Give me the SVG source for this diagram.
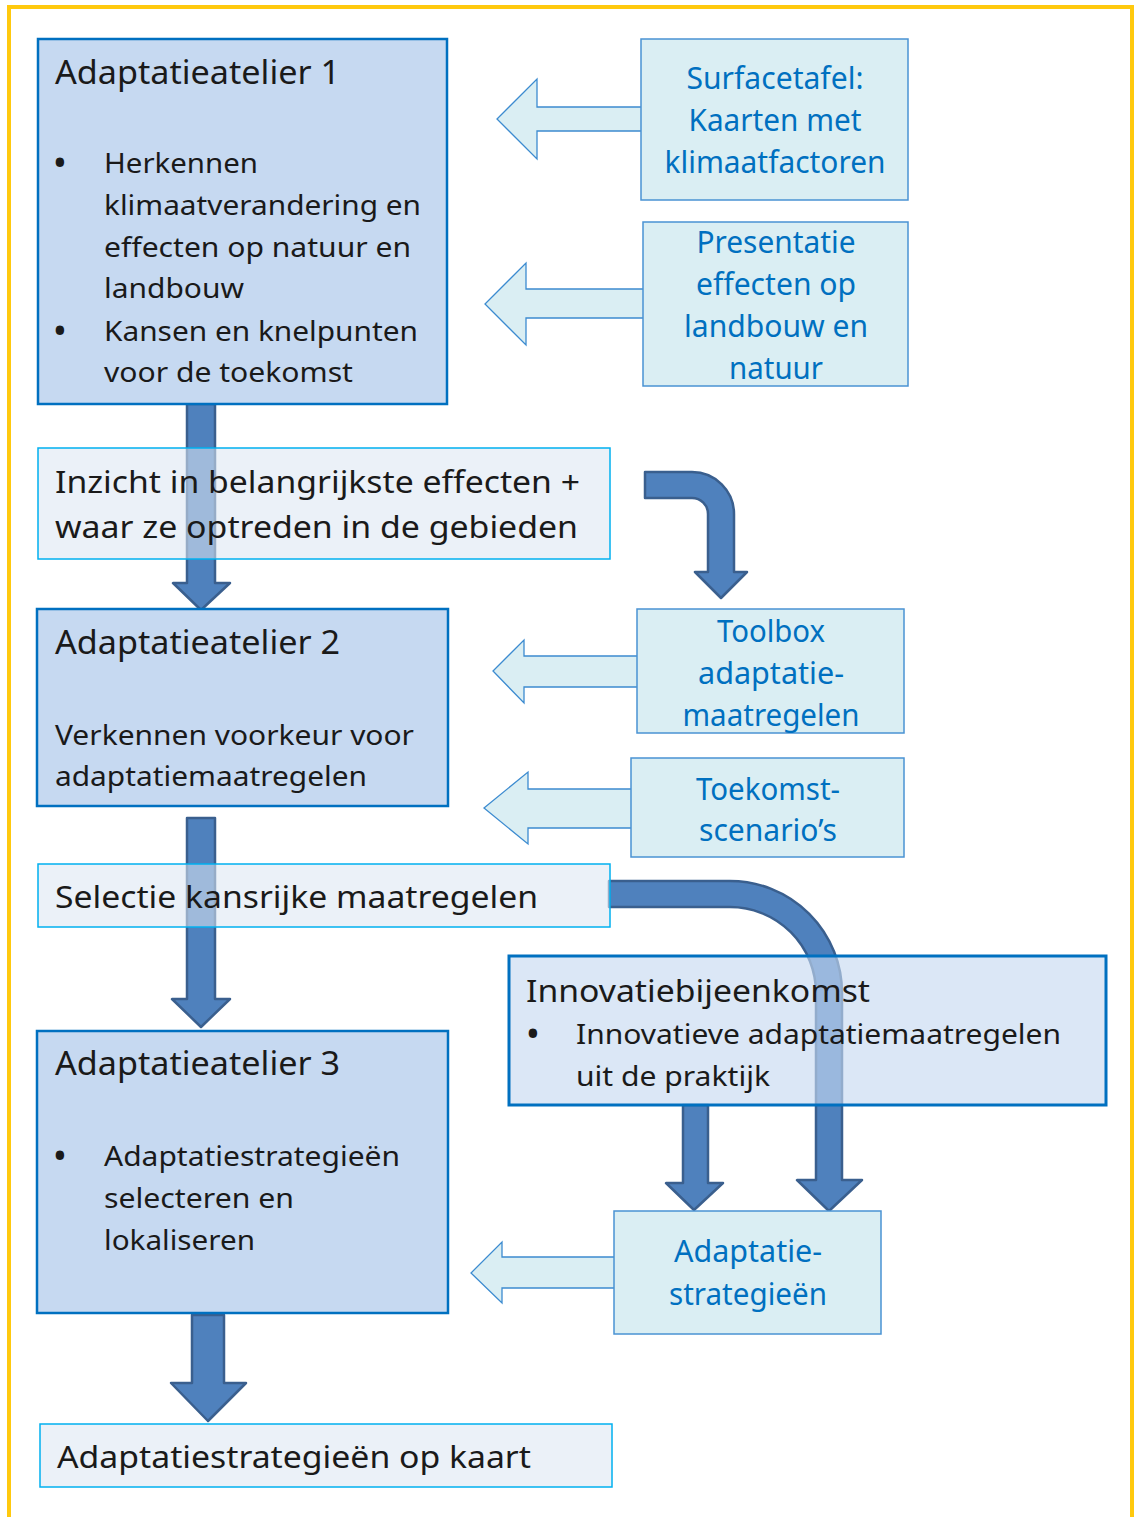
<svg xmlns="http://www.w3.org/2000/svg" width="1136" height="1517" viewBox="0 0 1136 1517">
<style>
text{font-family:"Noto Sans","Open Sans","DejaVu Sans",sans-serif;}
.main{fill:#C6D9F1;stroke:#0070C0;stroke-width:2.5;}
.trans{fill:#DCE6F2;fill-opacity:0.57;stroke:#00B0F0;stroke-width:1.5;}
.innov{fill:#C6D9F1;fill-opacity:0.63;stroke:#0070C0;stroke-width:3;}
.info{fill:#DAEEF3;stroke:#4A93D3;stroke-width:1.5;}
.hollow{fill:#DAEEF3;stroke:#3C8BD0;stroke-width:1.3;stroke-linejoin:miter;}
.block{fill:#4F81BD;stroke:#3A5F8E;stroke-width:2.5;stroke-linejoin:round;}
.t{fill:#1a1a1a;}
.ti{fill:#0070C0;text-anchor:middle;font-size:30px;}
.h{font-size:32px;}
.b{font-size:28px;}
.m{font-size:30px;}
.bul{font-size:30px;font-weight:bold;fill:#1a1a1a;text-anchor:middle;}
</style>
<rect x="9" y="7" width="1123" height="1540" fill="#FFFFFF" stroke="#FFC90E" stroke-width="4"/>

<g id="connectors">
  <path class="hollow" d="M641,107 H537 V79 L497,119 L537,159 V131 H641"/>
  <path class="hollow" d="M643,289 H526 V263 L485,304 L526,345 V318 H643"/>
  <path class="hollow" d="M637,656 H524 V640 L493,671 L524,703 V687 H637"/>
  <path class="hollow" d="M631,789 H528 V772 L484,808 L528,844 V828 H631"/>
  <path class="hollow" d="M614,1257 H502 V1242 L471,1273 L502,1303 V1288 H614"/>
  <path class="block" d="M187,404 H215 V583 H230 L201,610 L173,583 H187 Z"/>
  <path class="block" d="M187,818 H215 V999 H230 L201,1027 L172,999 H187 Z"/>
  <path class="block" d="M192,1315 H224 V1383 H246 L208,1421 L171,1383 H192 Z"/>
  <path class="block" d="M683,1105 H708 V1183 H723 L694,1210 L666,1183 H683 Z"/>
  <path class="block" d="M645,472 H692 A42,42 0 0 1 734,514 V572 H747 L721,598 L695,572 H708 V514 A16,16 0 0 0 692,498 H645 Z"/>
  <path class="block" d="M609,881 H730 A112,112 0 0 1 842,993 V1180 H862 L829,1211 L797,1180 H816 V993 A86,86 0 0 0 730,907 H609 Z"/>
</g>

<g id="atelier1">
  <rect class="main" x="38" y="39" width="409" height="365"/>
  <text class="t h" x="55" y="84" textLength="285" lengthAdjust="spacingAndGlyphs">Adaptatieatelier 1</text>
  <text class="bul" x="60" y="173">•</text>
  <text class="t b" x="104" y="173" textLength="154" lengthAdjust="spacingAndGlyphs">Herkennen</text>
  <text class="t b" x="104" y="215" textLength="317" lengthAdjust="spacingAndGlyphs">klimaatverandering en</text>
  <text class="t b" x="104" y="257" textLength="307" lengthAdjust="spacingAndGlyphs">effecten op natuur en</text>
  <text class="t b" x="104" y="298" textLength="140" lengthAdjust="spacingAndGlyphs">landbouw</text>
  <text class="bul" x="60" y="341">•</text>
  <text class="t b" x="104" y="341" textLength="314" lengthAdjust="spacingAndGlyphs">Kansen en knelpunten</text>
  <text class="t b" x="104" y="382" textLength="249" lengthAdjust="spacingAndGlyphs">voor de toekomst</text>
</g>

<g id="surfacetafel">
  <rect class="info" x="641" y="39" width="267" height="161"/>
  <text class="ti" x="775" y="89" textLength="177" lengthAdjust="spacingAndGlyphs">Surfacetafel:</text>
  <text class="ti" x="775" y="131" textLength="173" lengthAdjust="spacingAndGlyphs">Kaarten met</text>
  <text class="ti" x="775" y="173" textLength="221" lengthAdjust="spacingAndGlyphs">klimaatfactoren</text>
</g>

<g id="presentatie">
  <rect class="info" x="643" y="222" width="265" height="164"/>
  <text class="ti" x="776" y="253" textLength="159" lengthAdjust="spacingAndGlyphs">Presentatie</text>
  <text class="ti" x="776" y="295" textLength="160" lengthAdjust="spacingAndGlyphs">effecten op</text>
  <text class="ti" x="776" y="337" textLength="184" lengthAdjust="spacingAndGlyphs">landbouw en</text>
  <text class="ti" x="776" y="379" textLength="94" lengthAdjust="spacingAndGlyphs">natuur</text>
</g>

<g id="inzicht">
  <rect class="trans" x="38" y="448" width="572" height="111"/>
  <text class="t m" x="55" y="493" textLength="525" lengthAdjust="spacingAndGlyphs">Inzicht in belangrijkste effecten +</text>
  <text class="t m" x="55" y="538" textLength="523" lengthAdjust="spacingAndGlyphs">waar ze optreden in de gebieden</text>
</g>

<g id="atelier2">
  <rect class="main" x="37" y="609" width="411" height="197"/>
  <text class="t h" x="55" y="654" textLength="285" lengthAdjust="spacingAndGlyphs">Adaptatieatelier 2</text>
  <text class="t b" x="55" y="745" textLength="359" lengthAdjust="spacingAndGlyphs">Verkennen voorkeur voor</text>
  <text class="t b" x="55" y="786" textLength="312" lengthAdjust="spacingAndGlyphs">adaptatiemaatregelen</text>
</g>

<g id="toolbox">
  <rect class="info" x="637" y="609" width="267" height="124"/>
  <text class="ti" x="771" y="642" textLength="108" lengthAdjust="spacingAndGlyphs">Toolbox</text>
  <text class="ti" x="771" y="684" textLength="146" lengthAdjust="spacingAndGlyphs">adaptatie-</text>
  <text class="ti" x="771" y="726" textLength="177" lengthAdjust="spacingAndGlyphs">maatregelen</text>
</g>

<g id="toekomst">
  <rect class="info" x="631" y="758" width="273" height="99"/>
  <text class="ti" x="768" y="800" textLength="144" lengthAdjust="spacingAndGlyphs">Toekomst-</text>
  <text class="ti" x="768" y="841" textLength="138" lengthAdjust="spacingAndGlyphs">scenario’s</text>
</g>

<g id="selectie">
  <rect class="trans" x="38" y="864" width="572" height="63"/>
  <text class="t m" x="55" y="908" textLength="483" lengthAdjust="spacingAndGlyphs">Selectie kansrijke maatregelen</text>
</g>

<g id="innovatie">
  <rect class="innov" x="509" y="956" width="597" height="149"/>
  <text class="t m" x="526" y="1002" textLength="344" lengthAdjust="spacingAndGlyphs">Innovatiebijeenkomst</text>
  <text class="bul" x="533" y="1044">•</text>
  <text class="t b" x="576" y="1044" textLength="485" lengthAdjust="spacingAndGlyphs">Innovatieve adaptatiemaatregelen</text>
  <text class="t b" x="576" y="1086" textLength="194" lengthAdjust="spacingAndGlyphs">uit de praktijk</text>
</g>

<g id="atelier3">
  <rect class="main" x="37" y="1031" width="411" height="282"/>
  <text class="t h" x="55" y="1075" textLength="285" lengthAdjust="spacingAndGlyphs">Adaptatieatelier 3</text>
  <text class="bul" x="60" y="1166">•</text>
  <text class="t b" x="104" y="1166" textLength="296" lengthAdjust="spacingAndGlyphs">Adaptatiestrategieën</text>
  <text class="t b" x="104" y="1208" textLength="190" lengthAdjust="spacingAndGlyphs">selecteren en</text>
  <text class="t b" x="104" y="1250" textLength="151" lengthAdjust="spacingAndGlyphs">lokaliseren</text>
</g>

<g id="adaptatiestrategieen">
  <rect class="info" x="614" y="1211" width="267" height="123"/>
  <text class="ti" x="748" y="1262" textLength="148" lengthAdjust="spacingAndGlyphs">Adaptatie-</text>
  <text class="ti" x="748" y="1305" textLength="158" lengthAdjust="spacingAndGlyphs">strategieën</text>
</g>

<g id="opkaart">
  <rect class="trans" x="40" y="1424" width="572" height="63"/>
  <text class="t m" x="57" y="1468" textLength="474" lengthAdjust="spacingAndGlyphs">Adaptatiestrategieën op kaart</text>
</g>
</svg>
